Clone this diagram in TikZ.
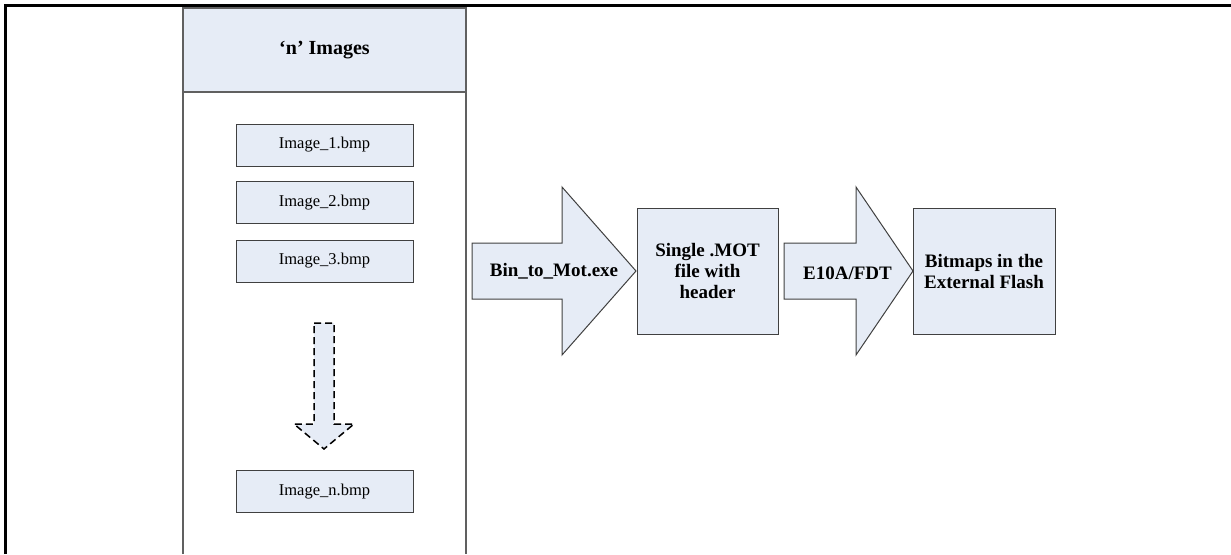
\documentclass[tikz,border=0pt]{standalone}
\usepackage{fontspec}
\setmainfont{Liberation Serif}
\definecolor{boxfill}{RGB}{230,236,246}
\definecolor{boxline}{RGB}{64,64,64}
\definecolor{colline}{RGB}{96,96,96}
\tikzset{
  imgbox/.style={draw=boxline, line width=1pt, fill=boxfill, minimum width=177pt, minimum height=42pt, inner sep=0pt, font=\fontsize{16.5}{19}\selectfont},
  hdrbox/.style={draw=colline, line width=1.5pt, fill=boxfill, minimum width=283pt, minimum height=84pt, inner sep=0pt, font=\bfseries\fontsize{20}{22}\selectfont},
  bigbox/.style={draw=boxline, line width=1pt, fill=boxfill, minimum width=141pt, minimum height=126pt, inner sep=0pt, align=center, font=\bfseries\fontsize{19}{21}\selectfont},
  blockarrow/.style={draw=boxline, line width=1pt, fill=boxfill},
  arrowtext/.style={inner sep=0pt, font=\bfseries\fontsize{19}{21}\selectfont},
  frameline/.style={line width=3pt, black},
  colborder/.style={draw=colline, line width=1.5pt}
}
\begin{document}
\begin{tikzpicture}[x=1pt,y=-1pt]
\useasboundingbox (0,0) rectangle (1231,554);
% frame
\draw[frameline] (5.5,554) -- (5.5,5.5) -- (1231,5.5);
% column
\draw[colborder] (183,554) -- (183,8) -- (466,8) -- (466,554);
\node[hdrbox] (hdr) at (324.5,50) {‘n’ Images};
\node[imgbox] (img1) at (324.5,145) {Image\_1.bmp};
\node[imgbox] (img2) at (324.5,202.5) {Image\_2.bmp};
\node[imgbox] (img3) at (324.5,261) {Image\_3.bmp};
\node[imgbox] (imgn) at (324.5,491.5) {Image\_n.bmp};
% dashed down arrow
\draw[black, line width=1.5pt, dash pattern=on 7pt off 4pt, fill=boxfill]
  (314,323) -- (334,323) -- (334,424) -- (354,424) -- (324,449) -- (294,424) -- (314,424) -- cycle;
% block arrow 1
\draw[blockarrow] (472,243) -- (562,243) -- (562,187) -- (636,271) -- (562,355) -- (562,299) -- (472,299) -- cycle;
\node[arrowtext] (a1) at (554,271) {Bin\_to\_Mot.exe};
% single mot box
\node[bigbox] (mot) at (707.5,271) {Single .MOT\\file with\\header};
% block arrow 2
\draw[blockarrow] (784,243) -- (856,243) -- (856,187) -- (913,271) -- (856,355) -- (856,299) -- (784,299) -- cycle;
\node[arrowtext] (a2) at (847.5,273) {E10A/FDT};
% bitmaps box
\node[bigbox, minimum width=142pt] (bmp) at (984,271) {Bitmaps in the\\External Flash};
\end{tikzpicture}
\end{document}
